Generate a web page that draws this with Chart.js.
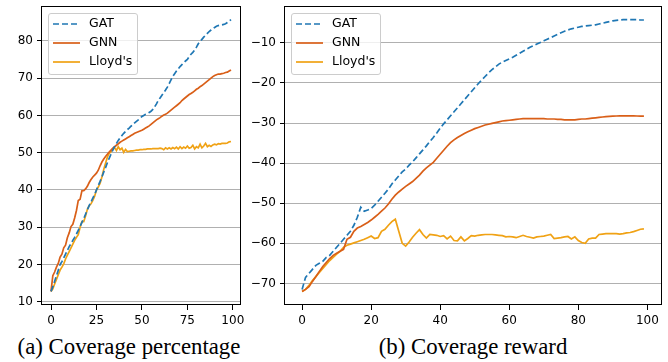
<!DOCTYPE html>
<html>
<head>
<meta charset="utf-8">
<script src="https://cdn.jsdelivr.net/npm/chart.js@4.4.1/dist/chart.umd.min.js"></script>
<style>
    body { margin: 0; width: 668px; height: 362px; background: #fff; position: relative; overflow: hidden; font-family: 'DejaVu Sans', sans-serif; }
    canvas { position: absolute; top: 0; }
    #chartPercent { left: 0; }
    #chartReward { left: 245px; }
    .legend { position: absolute; top: 13px; width: 88px; height: 60px; border: 1px solid #cccccc; border-radius: 3px; background: rgba(255, 255, 255, 0.8); }
    .legend svg { position: absolute; left: 0; top: 0; }
    .legend span { position: absolute; left: 40px; font-size: 12.5px; line-height: 14px; color: #000; white-space: nowrap; }
    .caption { position: absolute; top: 334px; font-family: 'Liberation Serif', 'Times New Roman', serif; font-size: 22.8px; line-height: 26px; text-align: center; color: #000; white-space: nowrap; }
</style>
</head>
<body>
<canvas id="chartPercent" width="245" height="325"></canvas>
<canvas id="chartReward" width="423" height="325"></canvas>

<div class="legend" id="legendPercent" style="left:48px;"></div>
<div class="legend" id="legendReward" style="left:291px;"></div>

<div class="caption" style="left:0; width:258px;">(a) Coverage percentage</div>
<div class="caption" style="left:373px; width:200px;">(b) Coverage reward</div>

<script>
// x values: iteration 0..99
const steps = Array.from({ length: 100 }, (_, i) => i);

const seriesNames = ['GAT', 'GNN', "Lloyd's"];
const seriesColors = ['#1f77b4', '#d95f18', '#f0a215'];

// (a) coverage percentage
const gatPercent = [
    12.8, 14.0, 15.5, 17.0, 18.5, 20.0, 20.8, 21.8, 22.8, 23.8,
    24.8, 25.6, 26.5, 27.3, 28.2, 29.2, 30.2, 31.3, 32.3, 33.5,
    34.7, 35.8, 36.8, 37.8, 38.8, 40.0, 41.2, 42.3, 43.5, 44.8,
    46.0, 47.3, 48.5, 49.6, 50.7, 51.7, 52.5, 53.3, 54.0, 54.6,
    55.2, 55.7, 56.2, 56.6, 57.1, 57.5, 58.0, 58.4, 58.8, 59.3,
    59.7, 60.0, 60.3, 60.5, 60.8, 61.1, 61.6, 62.3, 63.1, 64.0,
    64.7, 65.4, 66.1, 66.8, 67.6, 68.5, 69.5, 70.5, 71.2, 71.9,
    72.5, 73.1, 73.6, 74.1, 74.6, 75.0, 75.8, 76.4, 76.9, 77.5,
    78.3, 79.2, 79.8, 80.4, 81.0, 81.5, 82.0, 82.5, 82.9, 83.3,
    83.6, 83.9, 84.1, 84.2, 84.3, 84.4, 84.6, 84.9, 85.3, 85.7
];
const gnnPercent = [
    12.8, 17.0, 18.0, 19.3, 20.3, 22.0, 22.8, 24.5, 25.2, 27.2,
    28.5, 30.2, 30.8, 32.5, 34.5, 37.2, 37.5, 39.8, 39.8, 40.3,
    41.0, 42.0, 42.8, 43.5, 44.0, 44.5, 45.3, 46.5, 47.5, 48.3,
    49.0, 49.6, 50.2, 50.7, 51.2, 51.6, 52.0, 52.4, 52.8, 53.1,
    53.4, 53.7, 54.0, 54.3, 54.6, 54.9, 55.2, 55.4, 55.6, 55.8,
    56.0, 56.3, 56.6, 56.9, 57.2, 57.6, 58.0, 58.4, 58.8, 59.1,
    59.4, 59.8, 60.1, 60.3, 60.6, 61.0, 61.4, 61.8, 62.2, 62.6,
    63.0, 63.4, 64.0, 64.4, 64.8, 65.2, 65.6, 65.9, 66.2, 66.6,
    67.0, 67.3, 67.7, 68.0, 68.4, 68.8, 69.2, 69.6, 70.0, 70.4,
    70.7, 70.9, 71.1, 71.1, 71.2, 71.3, 71.5, 71.6, 71.9, 72.2
];
const lloydPercent = [
    12.8, 13.5, 14.8, 16.0, 17.3, 18.5, 19.3, 20.2, 21.5, 22.5,
    23.5, 24.5, 25.5, 26.5, 27.3, 28.0, 30.0, 31.5, 31.5, 33.0,
    34.8, 35.8, 36.3, 37.2, 38.3, 40.0, 40.8, 41.8, 43.5, 45.5,
    47.2, 48.8, 49.8, 50.3, 51.0, 51.3, 50.6, 51.6, 50.8, 51.2,
    50.1, 50.9, 50.3, 50.4, 50.5, 50.5, 50.6, 50.7, 50.7, 50.8,
    50.8, 50.9, 50.9, 51.0, 51.0, 51.0, 51.1, 51.1, 51.1, 51.1,
    51.2, 51.1, 50.8, 51.3, 51.0, 51.3, 51.0, 51.4, 51.1, 51.5,
    51.0, 51.6, 51.1, 51.5, 51.2, 51.8, 51.2, 51.4, 52.0, 51.0,
    51.6, 51.3, 52.3, 51.3, 51.8, 52.5, 51.6, 52.0, 51.7, 52.1,
    52.3, 52.1, 52.4, 52.3, 52.5, 52.5, 52.5, 52.6, 52.9, 53.0
];
const percentTicks = [10, 20, 30, 40, 50, 60, 70, 80];

// (b) coverage reward
const gatReward = [
    -71.5, -68.5, -67.5, -66.5, -65.5, -65.0, -64.5, -63.5, -63.0, -62.0,
    -61.0, -60.0, -59.0, -58.0, -57.0, -55.5, -53.5, -51.0, -52.0, -51.7,
    -51.3, -50.5, -49.5, -48.5, -47.5, -46.5, -45.2, -44.2, -43.2, -42.2,
    -41.5, -40.5, -39.7, -38.7, -37.7, -36.7, -35.7, -34.6, -33.6, -32.5,
    -31.3, -30.2, -29.2, -28.2, -27.2, -26.2, -25.2, -24.2, -23.2, -22.2,
    -21.2, -20.2, -19.3, -18.4, -17.5, -16.7, -16.0, -15.3, -14.8, -14.4,
    -14.0, -13.6, -13.1, -12.6, -12.1, -11.6, -11.1, -10.7, -10.3, -9.9,
    -9.5, -9.1, -8.7, -8.3, -7.9, -7.5, -7.1, -6.8, -6.5, -6.3,
    -6.1, -5.9, -5.8, -5.7, -5.6, -5.5, -5.3, -5.1, -4.9, -4.7,
    -4.5, -4.4, -4.3, -4.2, -4.2, -4.2, -4.2, -4.2, -4.3, -4.3
];
const gnnReward = [
    -72.0, -71.5, -70.8, -69.5, -68.3, -67.0, -65.8, -64.8, -63.8, -63.0,
    -62.5, -62.0, -61.5, -59.0, -58.5, -57.0, -56.2, -55.8, -55.3, -54.8,
    -54.2, -53.5, -52.8, -52.0, -51.2, -50.2, -49.0, -48.0, -47.2, -46.5,
    -45.8, -45.2, -44.6, -43.8, -43.0, -42.0, -41.2, -40.5, -39.8, -38.8,
    -37.8, -36.8, -35.8, -34.9, -34.2, -33.6, -33.1, -32.6, -32.2, -31.8,
    -31.4, -31.1, -30.8, -30.5, -30.3, -30.1, -29.9, -29.7, -29.5, -29.4,
    -29.3, -29.2, -29.1, -29.0, -28.9, -28.9, -28.9, -28.9, -28.9, -28.9,
    -28.9, -29.0, -29.0, -29.0, -29.1, -29.1, -29.2, -29.2, -29.2, -29.2,
    -29.1, -29.0, -29.0, -28.9, -28.8, -28.7, -28.6, -28.5, -28.4, -28.35,
    -28.3, -28.25, -28.2, -28.2, -28.2, -28.2, -28.2, -28.25, -28.3, -28.3
];
const lloydReward = [
    -72.0, -71.5, -70.5, -69.3, -68.3, -67.3, -66.3, -65.3, -64.3, -63.5,
    -62.7, -62.0, -61.0, -60.5, -60.2, -59.9, -59.6, -59.3, -59.0, -58.6,
    -58.2, -58.8, -58.6, -57.0, -56.5, -55.5, -54.6, -54.0, -57.0, -60.0,
    -60.7, -59.7, -58.5, -57.5, -56.6, -57.8, -58.7, -57.8, -57.9, -58.0,
    -58.3, -58.1, -58.9, -58.2, -59.3, -59.4, -58.4, -59.4, -58.8, -58.1,
    -58.2, -58.0, -57.9, -57.8, -57.8, -57.8, -57.9, -58.0, -58.1, -58.4,
    -58.3, -58.4, -58.6, -58.3, -58.0, -58.3, -58.5, -58.7, -58.4, -58.3,
    -58.2, -58.0, -57.8, -58.8, -58.7, -58.6, -58.4, -58.3, -58.9, -58.4,
    -59.3, -59.8, -60.0, -58.9, -58.7, -58.7, -57.8, -57.7, -57.6, -57.6,
    -57.6, -57.6, -57.7, -57.6, -57.4, -57.3, -57.1, -56.8, -56.5, -56.4
];
const rewardTicks = [-70, -60, -50, -40, -30, -20, -10];

Chart.defaults.font.family = "'DejaVu Sans', sans-serif";
Chart.defaults.font.size = 12;
Chart.defaults.color = '#000';

// black frame round the plot area, like matplotlib spines
const framePlugin = {
    id: 'frame',
    afterDatasetsDraw(chart) {
        const a = chart.chartArea;
        const ctx = chart.ctx;
        ctx.save();
        ctx.strokeStyle = '#000';
        ctx.lineWidth = 1;
        ctx.strokeRect(Math.round(a.left) - 0.5, Math.round(a.top) + 0.5,
            Math.round(a.right - a.left) + 1, Math.round(a.bottom - a.top) - 1);
        ctx.restore();
    }
};

function makeDatasets(values) {
    return values.map((vals, k) => ({
        label: seriesNames[k],
        data: steps.map((s, i) => ({ x: s, y: vals[i] })),
        borderColor: seriesColors[k],
        borderWidth: 1.7,
        borderDash: k === 0 ? [6, 3] : [],
        pointRadius: 0,
        tension: 0
    }));
}

function makeChart(canvasId, values, yTicks, xStep, yWidth, padRight) {
    const yMin = Math.min(...values.flat());
    const yMax = Math.max(...values.flat());
    const yPad = (yMax - yMin) * 0.05;
    const tickSet = new Set(yTicks);

    return new Chart(document.getElementById(canvasId), {
        type: 'line',
        data: { datasets: makeDatasets(values) },
        options: {
            responsive: false,
            animation: false,
            layout: { padding: { top: 6, right: padRight, left: 0, bottom: 0 } },
            plugins: { legend: { display: false }, tooltip: { enabled: false } },
            scales: {
                x: {
                    type: 'linear',
                    min: -4.95,
                    max: 103.95,
                    border: { display: false },
                    grid: { drawOnChartArea: false, drawTicks: true, tickLength: 5, tickColor: '#000' },
                    ticks: { stepSize: xStep, includeBounds: false, padding: 4, maxRotation: 0 },
                    afterFit(scale) {
                        scale.height = 20;
                        scale.paddingLeft = 0;
                        scale.paddingRight = 0;
                    }
                },
                y: {
                    type: 'linear',
                    min: yMin - yPad,
                    max: yMax + yPad,
                    border: { display: false },
                    grid: {
                        color: (c) => (c.tick && tickSet.has(c.tick.value) ? '#b0b0b0' : 'rgba(0,0,0,0)'),
                        lineWidth: 1,
                        tickLength: 5,
                        tickColor: '#000'
                    },
                    ticks: {
                        stepSize: 10,
                        includeBounds: false,
                        padding: 4,
                        callback: (v) => String(v).replace('-', '\u2212')
                    },
                    afterFit(scale) {
                        scale.width = yWidth;
                        scale.paddingTop = 0;
                        scale.paddingBottom = 0;
                    }
                }
            }
        },
        plugins: [framePlugin]
    });
}

makeChart('chartPercent', [gatPercent, gnnPercent, lloydPercent], percentTicks, 25, 42, 5);
makeChart('chartReward', [gatReward, gnnReward, lloydReward], rewardTicks, 20, 40, 7);

// legends drawn as html in the upper left corner of each plot
function buildLegend(id) {
    const box = document.getElementById(id);
    const rowY = [10, 29, 48];
    let svg = '<svg width="40" height="60">';
    seriesNames.forEach((name, k) => {
        const dash = k === 0 ? ' stroke-dasharray="6 3"' : '';
        svg += `<line x1="4" y1="${rowY[k]}" x2="31" y2="${rowY[k]}" stroke="${seriesColors[k]}" stroke-width="1.7"${dash}/>`;
    });
    svg += '</svg>';
    box.innerHTML = svg;
    seriesNames.forEach((name, k) => {
        const span = document.createElement('span');
        span.textContent = name;
        span.style.top = (rowY[k] - 8) + 'px';
        box.appendChild(span);
    });
}
buildLegend('legendPercent');
buildLegend('legendReward');
</script>
</body>
</html>
